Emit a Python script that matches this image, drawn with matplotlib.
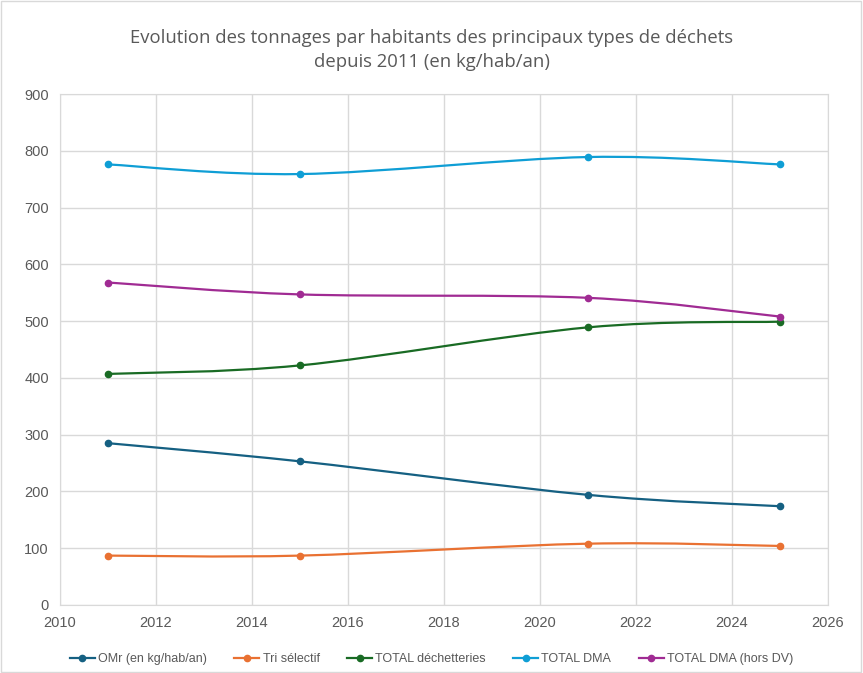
import matplotlib
matplotlib.use("Agg")
import matplotlib.pyplot as plt
from matplotlib.path import Path
from matplotlib.patches import PathPatch, Rectangle
from matplotlib.lines import Line2D

# data (kg/hab/an)
years = [2011, 2015, 2021, 2025]
omr = [285, 253, 194, 174]
tri = [87, 87, 108, 104]
decheteries = [407, 422, 489, 499]
total_dma = [776, 759, 789, 776]
total_dma_hors_dv = [568, 547, 541, 508]

series = [
    ("OMr (en kg/hab/an)", omr, "#156082"),
    ("Tri sélectif", tri, "#E97132"),
    ("TOTAL déchetteries", decheteries, "#196B24"),
    ("TOTAL DMA", total_dma, "#0F9ED5"),
    ("TOTAL DMA (hors DV)", total_dma_hors_dv, "#A02B93"),
]

plt.rcParams['font.family'] = ['Liberation Sans', 'DejaVu Sans']


def smooth_path(xs, ys):
    '''
    Excel-style smoothed line: cubic bezier segments (Catmull-Rom, tension 1/6)
    '''
    pts = list(zip(xs, ys))
    verts = [pts[0]]
    codes = [Path.MOVETO]
    n = len(pts)
    for i in range(n - 1):
        p0 = pts[i - 1] if i > 0 else pts[i]
        p1 = pts[i]
        p2 = pts[i + 1]
        p3 = pts[i + 2] if i + 2 < n else pts[i + 1]
        c1 = (p1[0] + (p2[0] - p0[0]) / 6, p1[1] + (p2[1] - p0[1]) / 6)
        c2 = (p2[0] - (p3[0] - p1[0]) / 6, p2[1] - (p3[1] - p1[1]) / 6)
        verts += [c1, c2, p2]
        codes += [Path.CURVE4] * 3
    return Path(verts, codes)


fig = plt.figure(figsize=(8.63, 6.73), dpi=100)
ax = fig.add_axes([60 / 863, 1 - 605 / 673, 768 / 863, 511 / 673])

handles = []
for label, values, color in series:
    ax.add_patch(PathPatch(smooth_path(years, values), facecolor='none',
                           edgecolor=color, lw=1.6, zorder=3))
    ax.plot(years, values, 'o', color=color, ms=4.5, zorder=4)
    handles.append(Line2D([], [], color=color, lw=1.6, marker='o', ms=4.5, label=label))

ax.set_xlim(2010, 2026)
ax.set_ylim(0, 900)
ax.set_xticks(range(2010, 2027, 2))
ax.set_yticks(range(0, 901, 100))
ax.grid(True, color='#d9d9d9', lw=1)
ax.set_axisbelow(True)
for s in ax.spines.values():
    s.set_color('#d9d9d9')
ax.tick_params(length=0, colors='#595959', labelsize=10.5, pad=8)

fig.text(0.5, 1 - 50 / 673, "Evolution des tonnages par habitants des principaux types de déchets\ndepuis 2011 (en kg/hab/an)",
         ha='center', va='center', fontsize=13.3, color='#595959', linespacing=1.4,
         family=['Open Sans', 'DejaVu Sans'])

fig.legend(handles=handles, loc='center', bbox_to_anchor=(0.5, 1 - 659 / 673), ncol=5,
           frameon=False, fontsize=9, handlelength=2.0, columnspacing=2.2,
           handletextpad=0.25, labelcolor='#595959')

fig.add_artist(Rectangle((0.001, 0.001), 0.997, 0.997, transform=fig.transFigure,
                         fill=False, edgecolor='#d9d9d9', lw=1))

fig.savefig("out.png", dpi=100)
